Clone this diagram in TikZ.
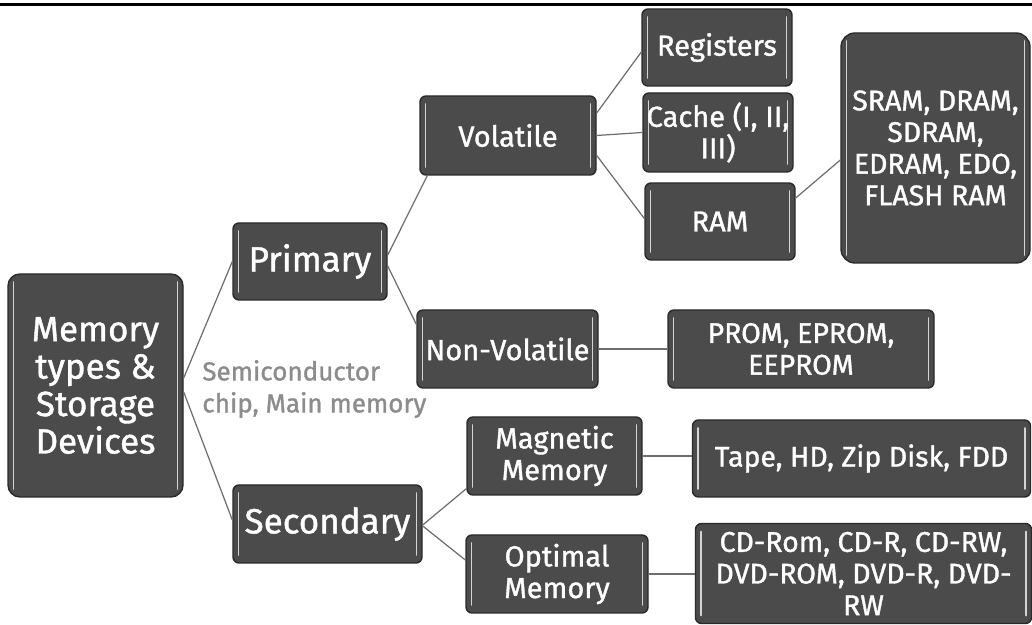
\documentclass[tikz,border=0pt]{standalone}
\usepackage{fontspec}
\setmainfont{Fira Sans}[BoldFont={Fira Sans}, BoldFeatures={FakeBold=1.2}]
\usepackage{xcolor}
\usepackage{tikz}
\usetikzlibrary{positioning, calc}

\definecolor{boxfill}{HTML}{4B4B4B}
\definecolor{boxedge}{HTML}{2A2A2A}
\definecolor{shine}{HTML}{D4D4D4}
\definecolor{linkgray}{HTML}{6E6E6E}
\definecolor{notegray}{HTML}{8C8C8C}

\begin{document}
\begin{tikzpicture}[
    membox/.style={draw=boxedge, fill=boxfill, line width=0.8pt, rounded corners=1.2mm,
      text=white, align=center, inner sep=1pt, font=\fontsize{16.5}{18}\selectfont\bfseries,
      path picture={
        \draw[shine, line width=1.1pt, line cap=round]
          ([shift={(1.1mm,-1.6mm)}]path picture bounding box.north west) --
          ([shift={(1.1mm,1.6mm)}]path picture bounding box.south west);
        \draw[shine, line width=1.1pt, line cap=round]
          ([shift={(-1.1mm,-1.6mm)}]path picture bounding box.north east) --
          ([shift={(-1.1mm,1.6mm)}]path picture bounding box.south east);
      }},
    bigbox/.style={membox, font=\fontsize{19.9}{21.3}\selectfont\bfseries},
    listbox/.style={membox, font=\fontsize{16.2}{18}\selectfont\bfseries},
    link/.style={draw=linkgray, line width=0.7pt}]
  \useasboundingbox (0,0) rectangle (20.64,12.5);
  \draw[line width=1.5pt] (0,12.406) -- (20.64,12.406);

  \node[bigbox, rounded corners=2.4mm, minimum width=3.5cm, minimum height=4.46cm] (root) at (1.91,4.79)
    {Memory\\types \&\\Storage\\Devices};
  \node[bigbox, minimum width=3.08cm, minimum height=1.54cm] (prim) at (6.20,7.27) {Primary};
  \node[bigbox, minimum width=3.78cm, minimum height=1.56cm] (sec) at (6.55,2.02) {Secondary};

  \node[membox, minimum width=3.52cm, minimum height=1.58cm] (vol) at (10.16,9.79) {Volatile};
  \node[membox, minimum width=3.62cm, minimum height=1.56cm] (nonvol) at (10.15,5.52) {Non-Volatile};
  \node[membox, minimum width=3.5cm, minimum height=1.56cm] (mag) at (11.09,3.38) {Magnetic\\Memory};
  \node[membox, minimum width=3.64cm, minimum height=1.56cm] (opt) at (11.14,1.02) {Optimal\\Memory};

  \node[membox, minimum width=3.0cm, minimum height=1.54cm] (reg) at (14.34,11.55) {Registers};
  \node[membox, minimum width=3.0cm, minimum height=1.58cm] (cache) at (14.36,9.85) {Cache (I, II,\\III)};
  \node[membox, minimum width=3.0cm, minimum height=1.54cm] (ram) at (14.40,8.07) {RAM};

  \node[listbox, rounded corners=2.8mm, minimum width=3.78cm, minimum height=4.6cm] (sram) at (18.71,9.54)
    {SRAM, DRAM,\\SDRAM,\\EDRAM, EDO,\\FLASH RAM};
  \node[listbox, minimum width=5.32cm, minimum height=1.56cm] (prom) at (16.02,5.52) {PROM, EPROM,\\EEPROM};
  \node[listbox, minimum width=6.76cm, minimum height=1.54cm] (tape) at (17.23,3.33) {Tape, HD, Zip Disk, FDD};
  \node[listbox, minimum width=6.72cm, minimum height=2.0cm] (cd) at (17.27,1.03)
    {CD-Rom, CD-R, CD-RW,\\DVD-ROM, DVD-R, DVD-\\RW};

  \node[anchor=west, align=left, text=notegray, inner sep=0pt,
    font=\fontsize{14.8}{18.2}\selectfont\bfseries] (note) at (4.04,4.72) {Semiconductor\\chip, Main memory};

  \draw[link] ([yshift=1.5mm]root.east) -- (prim.west);
  \draw[link] ([yshift=-1.3mm]root.east) -- ([yshift=0.8mm]sec.west);
  \draw[link] ([yshift=1.3mm]prim.east) -- ([xshift=1.6mm]vol.south west);
  \draw[link] ([yshift=-0.9mm]prim.east) -- ([yshift=-3mm]nonvol.north west);
  \draw[link] ([yshift=4.5mm]vol.east) -- ([yshift=-0.9mm]reg.west);
  \draw[link] (vol.east) -- (cache.west);
  \draw[link] ([yshift=-4mm]vol.east) -- ([yshift=0.6mm]ram.west);
  \draw[link] ([yshift=4.7mm]ram.east) -- ([yshift=-2.4mm]sram.west);
  \draw[link] (nonvol.east) -- (nonvol.east -| prom.west);
  \draw[link] ([yshift=-0.2mm]sec.east) -- ([yshift=1.4mm]mag.south west);
  \draw[link] ([yshift=-0.4mm]sec.east) -- ([yshift=2.8mm]opt.west);
  \draw[link] (mag.east) -- (mag.east -| tape.west);
  \draw[link] (opt.east) -- (opt.east -| cd.west);
\end{tikzpicture}
\end{document}
